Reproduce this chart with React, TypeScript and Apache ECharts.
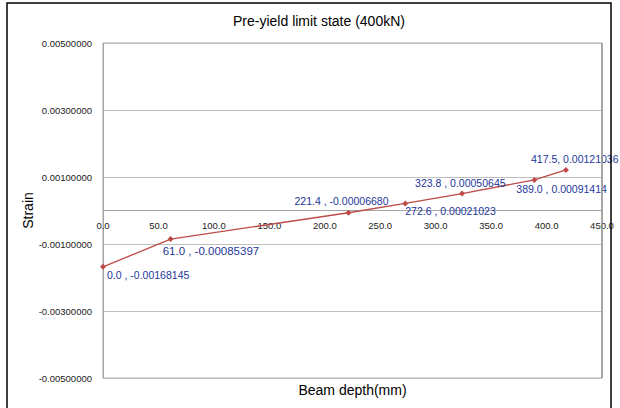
import React, { useEffect, useRef } from "react";
import * as echarts from "echarts";

const depths = [0.0, 61.0, 221.4, 272.6, 323.8, 389.0, 417.5];
const strains = [-0.00168145, -0.00085397, -0.0000668, 0.00021023, 0.00050645, 0.00091414, 0.00121036];
const labelSeparators = [" , ", " , ", " , ", " , ", " , ", " , ", ", "];
const xTickMin = 0;
const xTickMax = 450;
const xTickStep = 50;
const yTickMin = -0.005;
const yTickMax = 0.005;
const yTickStep = 0.002;

// label placement (style only): [dx, dy] of text-left / text-middle relative to point
const labelOffsets: [number, number][] = [
  [4, 8],
  [-8, 12],
  [-54, -12],
  [0, 8],
  [-47, -11],
  [-18, 9],
  [-35, -11],
];
const labelSizes = [10.5, 11.5, 10.5, 10.5, 10.5, 10.5, 10.5];

const FONT = "'Liberation Sans', Arial, sans-serif";
const SYM = 6;
const GRID_TOP = 43;
const GRID_BOTTOM = 30;
const CH = 408;

export default function App() {
  const ref = useRef<HTMLDivElement>(null);
  useEffect(() => {
    document.body.style.margin = "0";
    if (!ref.current) return;
    const chart = echarts.init(ref.current, undefined, { renderer: "svg" });
    const gridH = CH - GRID_TOP - GRID_BOTTOM;
    const zeroOffset = -gridH * ((0 - yTickMin) / (yTickMax - yTickMin));
    const data = depths.map((x, i) => ({
      value: [x, strains[i]],
      label: {
        show: true,
        position: [labelOffsets[i][0] + SYM / 2, labelOffsets[i][1] + SYM / 2],
        align: "left",
        verticalAlign: "middle",
        fontSize: labelSizes[i],
        fontFamily: FONT,
        color: "#23369A",
        formatter: () => `${x.toFixed(1)}${labelSeparators[i]}${strains[i].toFixed(8)}`,
      },
    }));
    chart.setOption({
      animation: false,
      backgroundColor: "#ffffff",
      title: {
        text: "Pre-yield limit state (400kN)",
        left: 233,
        top: 14,
        padding: 0,
        textStyle: { fontSize: 14, fontWeight: "normal", color: "#000", fontFamily: FONT },
      },
      graphic: [
        {
          type: "rect",
          shape: { x: 7, y: 3, width: 604, height: 412 },
          style: { fill: "none", stroke: "#000", lineWidth: 1.5 },
          silent: true,
          z: 100,
        },
        {
          type: "line",
          shape: { x1: 602, y1: GRID_TOP, x2: 602, y2: CH - GRID_BOTTOM },
          style: { stroke: "#999999", lineWidth: 1.5 },
          silent: true,
          z: 50,
        },
      ],
      grid: {
        left: 103,
        right: 18,
        top: GRID_TOP,
        bottom: GRID_BOTTOM,
        show: true,
        borderColor: "#A6A6A6",
        borderWidth: 1,
        containLabel: false,
        outerBoundsMode: "none",
      },
      xAxis: [
        {
          type: "value",
          min: xTickMin,
          max: xTickMax,
          interval: xTickStep,
          position: "bottom",
          name: "Beam depth(mm)",
          nameLocation: "middle",
          nameGap: 5,
          nameMoveOverlap: false,
          nameTextStyle: { fontSize: 14, color: "#000", fontFamily: FONT, verticalAlign: "top" },
          axisLine: { show: false, onZero: false },
          axisTick: { show: false },
          splitLine: { show: false },
          axisLabel: { show: false },
        },
        {
          type: "value",
          min: xTickMin,
          max: xTickMax,
          interval: xTickStep,
          position: "bottom",
          offset: zeroOffset,
          axisLine: { show: true, onZero: false, lineStyle: { color: "#A6A6A6", width: 1 } },
          axisTick: { show: false },
          splitLine: { show: false },
          axisLabel: {
            fontSize: 9.5,
            color: "#222",
            fontFamily: FONT,
            margin: 10,
            formatter: (v: number) => v.toFixed(1),
          },
        },
      ],
      yAxis: {
        type: "value",
        min: yTickMin,
        max: yTickMax,
        interval: yTickStep,
        name: "Strain",
        nameLocation: "middle",
        nameGap: 68,
        nameMoveOverlap: false,
        nameTextStyle: { fontSize: 14, color: "#000", fontFamily: FONT },
        axisLine: { show: true, onZero: false, lineStyle: { color: "#A6A6A6" } },
        axisTick: { show: false },
        splitLine: { show: true, lineStyle: { color: "#BFBFBF", width: 1 } },
        axisLabel: {
          fontSize: 9.5,
          color: "#222",
          fontFamily: FONT,
          margin: 11,
          formatter: (v: number) => v.toFixed(8),
        },
      },
      series: [
        {
          type: "line",
          xAxisIndex: 1,
          data,
          symbol: "diamond",
          symbolSize: SYM,
          itemStyle: { color: "#BE4B48" },
          lineStyle: { color: "#BE4B48", width: 1.3 },
        },
      ],
    });
    return () => chart.dispose();
  }, []);
  return <div ref={ref} style={{ width: 620, height: 408 }} />;
}
